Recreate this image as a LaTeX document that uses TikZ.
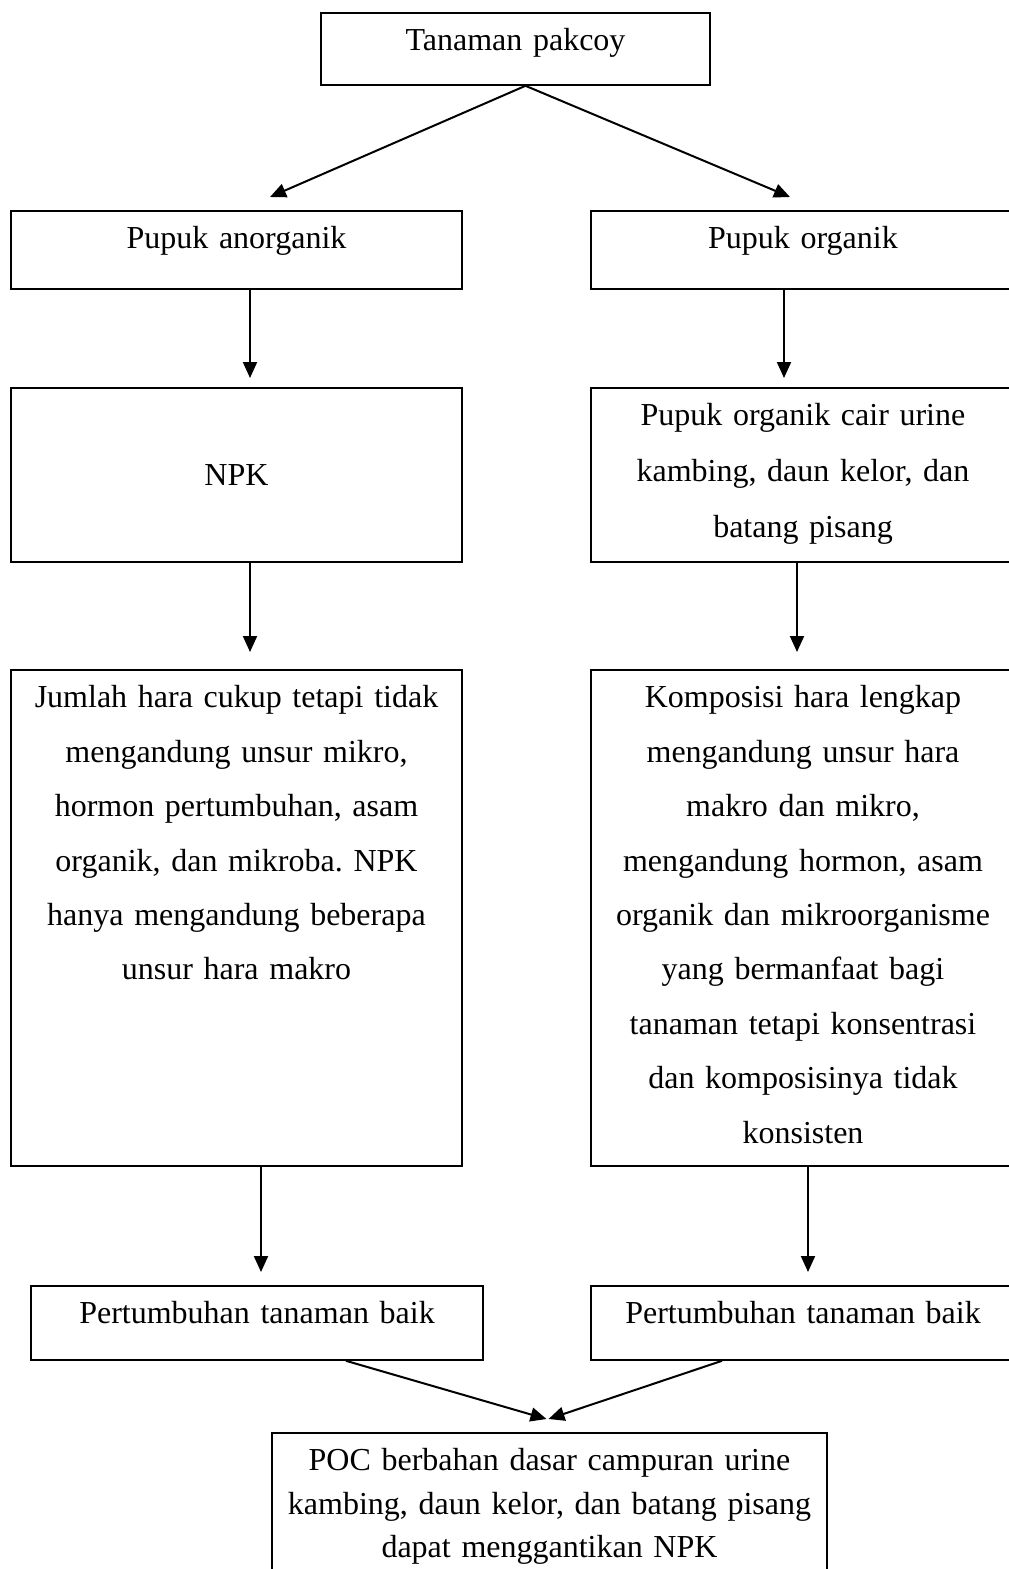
\documentclass[tikz,border=0pt]{standalone}
\usepackage{fontspec}
\setmainfont{Liberation Serif}
\frenchspacing
\usetikzlibrary{positioning,arrows.meta}
\tikzset{box/.style={draw,line width=1.8pt,align=center,anchor=north,
        inner xsep=0pt,inner ysep=16pt,text height=22pt,
        font=\fontsize{32}{54.4}\selectfont},
        link/.style={line width=2pt,-{Triangle[length=16pt,width=14pt]}}}

\begin{document}
\begin{tikzpicture}[x=1pt,y=-1pt]
  \useasboundingbox (0,0) rectangle (1009,1569);
  %% top
  \node[box,text width=389pt,text depth=18pt] (pakcoy) at (515.5,12)
       {Tanaman pakcoy};
  %% left column
  \node[box,text width=451pt,text depth=24pt] (anorganik) at (236.5,210)
       {Pupuk anorganik};
  \node[box,text width=451pt,text height=82pt,text depth=60pt] (npk)
       at (236.5,387) {NPK};
  \node[box,text width=451pt,text depth=442pt] (kurang) at (236.5,669)
       {Jumlah hara cukup tetapi tidak\\ mengandung unsur mikro,\\
        hormon pertumbuhan, asam\\ organik, dan mikroba. NPK\\
        hanya mengandung beberapa\\ unsur hara makro};
  \node[box,text width=452pt,text depth=20pt] (tumbuhkiri) at (257,1285)
       {Pertumbuhan tanaman baik};
  %% right column
  \node[box,text width=424pt,text depth=24pt] (organik) at (803,210)
       {Pupuk organik};
  \node[box,text width=424pt,text depth=120pt,
        font=\fontsize{32}{56}\selectfont] (poc) at (803,387)
       {Pupuk organik cair urine\\ kambing, daun kelor, dan\\ batang pisang};
  \node[box,text width=424pt,text depth=442pt] (lengkap) at (803,669)
       {Komposisi hara lengkap\\ mengandung unsur hara\\ makro dan mikro,\\
        mengandung hormon, asam\\ organik dan mikroorganisme\\
        yang bermanfaat bagi\\ tanaman tetapi konsentrasi\\
        dan komposisinya tidak\\ konsisten};
  \node[box,text width=424pt,text depth=20pt] (tumbuhkanan) at (803,1285)
       {Pertumbuhan tanaman baik};
  %% bottom
  \node[box,text width=555pt,text depth=106pt,
        font=\fontsize{32}{43.5}\selectfont] (hasil) at (549.5,1432)
       {POC berbahan dasar campuran urine\\
        kambing, daun kelor, dan batang pisang\\ dapat menggantikan NPK};
  %% arrows
  \draw[link] ([xshift=10pt]pakcoy.south)
              -- ([xshift=33.5pt,yshift=13pt]anorganik.north);
  \draw[link] ([xshift=10pt]pakcoy.south)
              -- ([xshift=-13pt,yshift=13pt]organik.north);
  \draw[link] ([xshift=13.5pt]anorganik.south)
              -- ([xshift=13.5pt,yshift=9pt]npk.north);
  \draw[link] ([xshift=-19pt]organik.south)
              -- ([xshift=-19pt,yshift=9pt]poc.north);
  \draw[link] ([xshift=13.5pt]npk.south)
              -- ([xshift=13.5pt,yshift=17pt]kurang.north);
  \draw[link] ([xshift=-6pt]poc.south)
              -- ([xshift=-6pt,yshift=17pt]lengkap.north);
  \draw[link] ([xshift=24.5pt]kurang.south)
              -- ([xshift=4pt,yshift=13pt]tumbuhkiri.north);
  \draw[link] ([xshift=5pt]lengkap.south)
              -- ([xshift=5pt,yshift=13pt]tumbuhkanan.north);
  \draw[link] ([xshift=89pt]tumbuhkiri.south)
              -- ([xshift=-3pt,yshift=13pt]hasil.north);
  \draw[link] ([xshift=-81pt]tumbuhkanan.south)
              -- ([xshift=-1pt,yshift=13pt]hasil.north);
\end{tikzpicture}
\end{document}
